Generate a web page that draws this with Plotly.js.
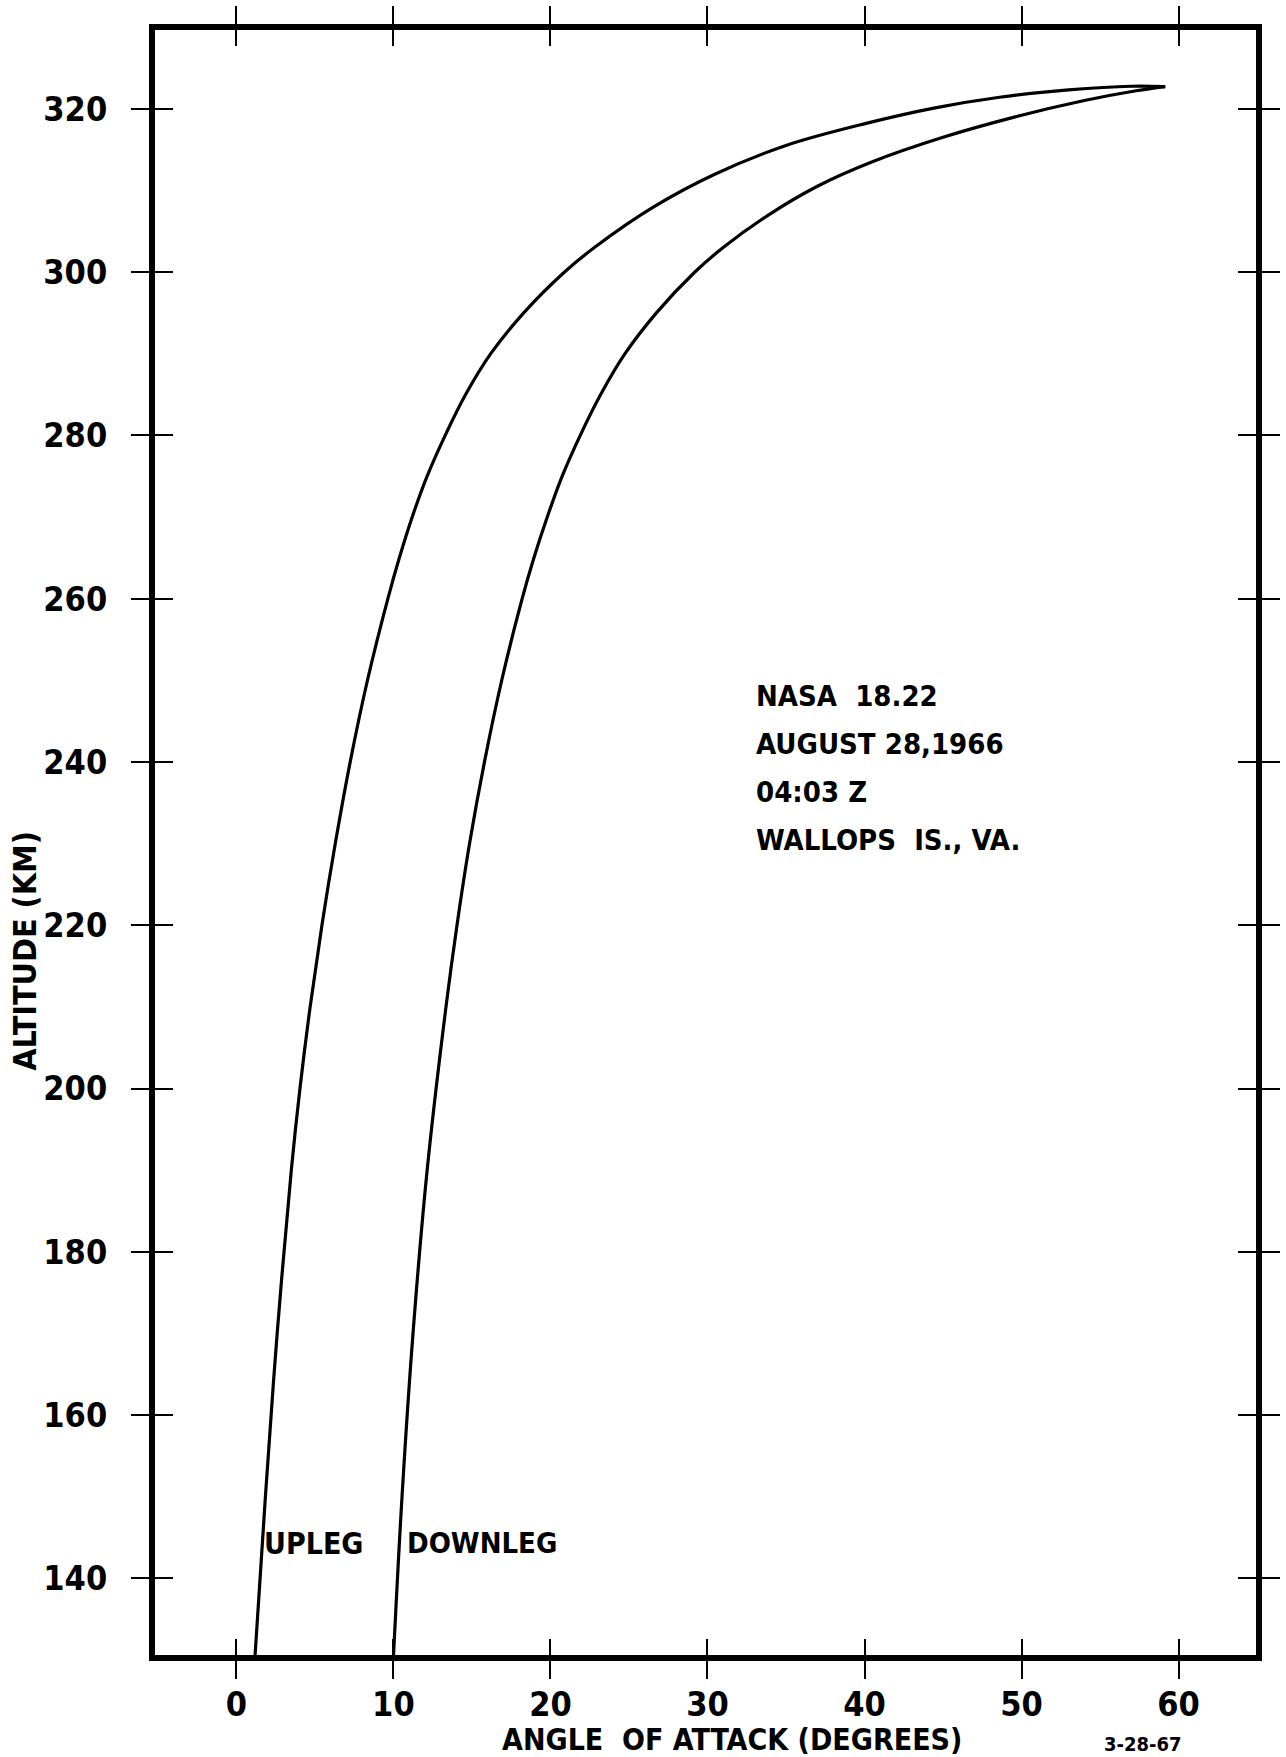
<!DOCTYPE html>
<html>
<head>
<meta charset="utf-8">
<script src="https://cdn.plot.ly/plotly-3.0.1.min.js"></script>
<style>html,body{margin:0;padding:0;background:#fff;}#chart{width:1286px;height:1757px;}</style>
</head>
<body>
<div id="chart"></div>
<script>
// Upleg: angle of attack (deg) vs altitude (km)
const uplegAngle = [1.18, 1.85, 2.6, 3.5, 4.05, 4.7, 5.45, 6.3, 7.25, 8.35, 9.65, 10.38, 11.2, 12.15, 13.3, 14.6, 16.2, 18.3, 20.9, 22.8, 26.6, 30.5, 35.0, 40.1, 44.5, 48.6, 53.0, 57.0, 59.15];
const uplegAlt   = [130.25, 150, 170, 190, 200, 210, 220, 230, 240, 250, 260, 265, 270, 275, 280, 285, 290, 295, 300, 303, 308, 312, 315.5, 318.2, 320.1, 321.4, 322.3, 322.75, 322.7];
// Downleg
const downlegAngle = [10.0, 10.55, 11.25, 12.15, 13.35, 14.05, 14.85, 15.8, 16.9, 18.2, 18.95, 19.8, 20.75, 21.9, 23.2, 24.75, 26.75, 29.2, 31.0, 33.9, 37.0, 40.5, 45.0, 49.6, 54.0, 57.3, 59.15];
const downlegAlt   = [130.25, 150, 170, 190, 210, 220, 230, 240, 250, 260, 265, 270, 275, 280, 285, 290, 295, 300, 303, 307, 310.5, 313.5, 316.5, 319.0, 321.0, 322.2, 322.7];

const xTicks = [0, 10, 20, 30, 40, 50, 60];
const yTicks = [140, 160, 180, 200, 220, 240, 260, 280, 300, 320];
const noteLines = ["NASA  18.22", "AUGUST 28,1966", "04:03 Z", "WALLOPS  IS., VA."];
const xTitle = "ANGLE  OF ATTACK (DEGREES)";
const yTitle = "ALTITUDE (KM)";
const dateStamp = "3-28-67";
const curveLabels = ["UPLEG", "DOWNLEG"];

const FONT = "'DejaVu Sans Condensed', 'DejaVu Sans', sans-serif";
const xRange = [-5.18, 64.93];
const yRange = [130.62, 329.64];

const lineStyle = {color: '#000', width: 3.2, shape: 'spline', smoothing: 1};
const traces = [
  {x: uplegAngle, y: uplegAlt, type: 'scatter', mode: 'lines', line: lineStyle, name: 'UPLEG', xaxis: 'x', yaxis: 'y'},
  {x: downlegAngle, y: downlegAlt, type: 'scatter', mode: 'lines', line: lineStyle, name: 'DOWNLEG', xaxis: 'x2', yaxis: 'y2'}
];

const tickFont = {family: FONT, size: 34, color: '#000', weight: 'bold'};
const baseAxis = {showgrid: false, zeroline: false, fixedrange: true};
const bold = (s) => ({family: FONT, size: s, color: '#000', weight: 'bold'});

const annotations = [];
noteLines.forEach((t, i) => {
  annotations.push({text: t, xref: 'paper', yref: 'paper', x: 0.5440, y: 0.5903 - i * 0.0296,
    xanchor: 'left', yanchor: 'middle', showarrow: false, font: bold(29)});
});
annotations.push({text: curveLabels[0], xref: 'paper', yref: 'paper', x: 0.0975, y: 0.0687,
  xanchor: 'left', yanchor: 'middle', showarrow: false, font: bold(30)});
annotations.push({text: curveLabels[1], xref: 'paper', yref: 'paper', x: 0.2270, y: 0.0687,
  xanchor: 'left', yanchor: 'middle', showarrow: false, font: bold(29)});
annotations.push({text: xTitle, xref: 'paper', yref: 'paper', x: 0.524, y: -0.0523,
  xanchor: 'center', yanchor: 'middle', showarrow: false, font: bold(30)});
annotations.push({text: yTitle, xref: 'paper', yref: 'paper', x: -0.1184, y: 0.4332, textangle: -90,
  xanchor: 'center', yanchor: 'middle', showarrow: false, font: bold(32)});
annotations.push({text: dateStamp, xref: 'paper', yref: 'paper', x: 0.8974, y: -0.0548,
  xanchor: 'center', yanchor: 'middle', showarrow: false, font: bold(20)});

const layout = {
  width: 1286, height: 1757,
  margin: {l: 155, r: 30, t: 30, b: 102, pad: 0},
  paper_bgcolor: '#fff', plot_bgcolor: '#fff',
  showlegend: false,
  xaxis: Object.assign({}, baseAxis, {range: xRange, tickvals: xTicks, ticktext: xTicks.map(String),
    ticks: 'outside', ticklen: 18, tickwidth: 2, tickcolor: '#000', mirror: 'allticks',
    showline: true, linewidth: 6, linecolor: '#000', tickfont: tickFont, ticklabelstandoff: -4}),
  yaxis: Object.assign({}, baseAxis, {range: yRange, tickvals: yTicks, ticktext: yTicks.map(String),
    ticks: 'outside', ticklen: 18, tickwidth: 2, tickcolor: '#000', mirror: 'allticks',
    showline: true, linewidth: 6, linecolor: '#000', tickfont: tickFont, ticklabelstandoff: 17}),
  xaxis2: Object.assign({}, baseAxis, {range: xRange, overlaying: 'x', anchor: 'y2', side: 'bottom',
    tickvals: xTicks, showticklabels: false, ticks: 'inside', ticklen: 16, tickwidth: 2, tickcolor: '#000',
    mirror: 'ticks', showline: false}),
  yaxis2: Object.assign({}, baseAxis, {range: yRange, overlaying: 'y', anchor: 'x2', side: 'left',
    tickvals: yTicks, showticklabels: false, ticks: 'inside', ticklen: 18, tickwidth: 2, tickcolor: '#000',
    mirror: 'ticks', showline: false}),
  annotations: annotations
};

Plotly.newPlot('chart', traces, layout, {displayModeBar: false, staticPlot: true});
</script>
</body>
</html>
